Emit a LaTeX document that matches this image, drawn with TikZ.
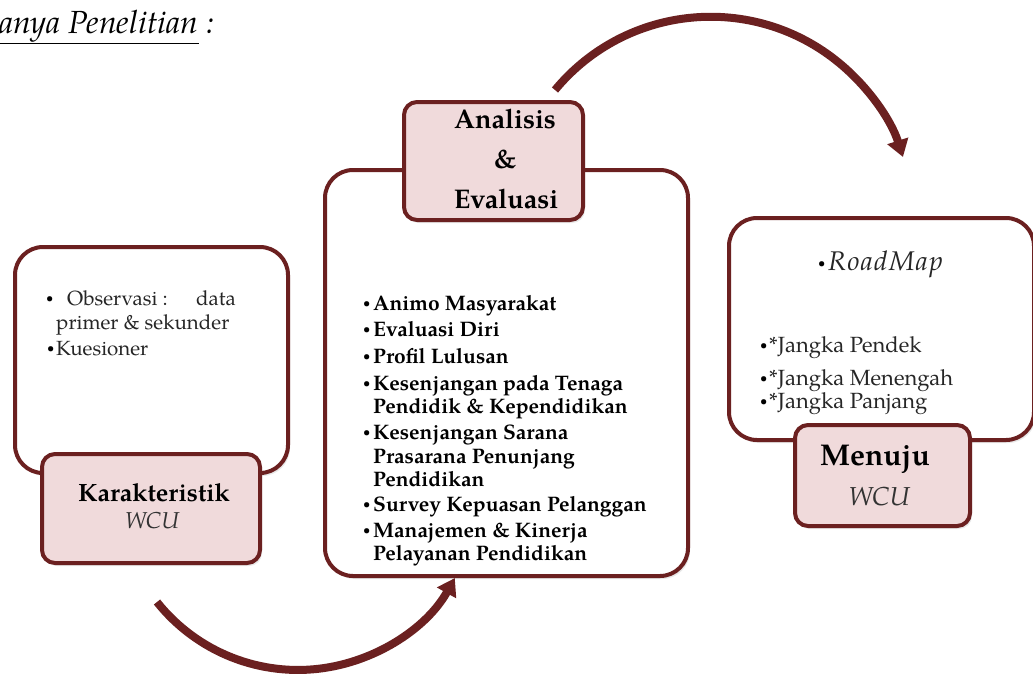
\documentclass[tikz,border=0pt]{standalone}
\usepackage{fontspec}
\setmainfont{TeX Gyre Pagella}
\usetikzlibrary{arrows.meta,shadows}
\definecolor{maroon}{HTML}{6B2020}
\definecolor{pinkfill}{HTML}{F0DADB}
\newcommand{\fs}[1]{\fontsize{#1}{#1}\selectfont}
\newcommand{\smbul}[1]{\raisebox{#1}{\fontsize{13}{13}\selectfont\textbullet}}
\tikzset{
  bigbox/.style={draw=maroon, line width=4pt, rounded corners=28pt, fill=white, inner sep=0pt,
    drop shadow={opacity=0.18, shadow xshift=2pt, shadow yshift=-3pt}},
  labelbox/.style={draw=maroon, line width=4pt, rounded corners=13pt, fill=pinkfill, inner sep=0pt,
    drop shadow={opacity=0.18, shadow xshift=2pt, shadow yshift=-3pt}},
  curvearrow/.style={draw=maroon, line width=8pt, -{Triangle[length=17pt,width=21pt]}},
  txt/.style={anchor=base west, inner sep=0pt},
  ctxt/.style={anchor=base, inner sep=0pt},
  midtxt/.style={txt, font=\fs{21}\bfseries},
  lefttxt/.style={txt, font=\fs{20.5}, text=black!85},
  righttxt/.style={txt, font=\fs{22}, text=black!85},
  bul/.style={txt, text=black},
}
\begin{document}
\begin{tikzpicture}[x=1pt,y=1pt]
\useasboundingbox (0,0) rectangle (1033,-673);
\clip (0,0) rectangle (1033,-673);
\fill[white] (0,0) rectangle (1033,-673);

% title
\node[txt, font=\fs{32}\itshape] (title) at (-1,-33) {\underline{anya Penelitian} :};

% big boxes
\node[bigbox, minimum width=273pt, minimum height=226pt] (leftbox) at (151.5,-360) {};
\node[bigbox, minimum width=363pt, minimum height=406pt] (midbox) at (506.5,-373) {};
\node[bigbox, minimum width=305pt, minimum height=222pt] (rightbox) at (881.5,-329) {};

% label boxes
\node[labelbox, minimum width=218pt, minimum height=109pt] (leftlab) at (151,-508.5) {};
\node[labelbox, minimum width=179pt, minimum height=118pt] (midlab) at (493.5,-161) {};
\node[labelbox, minimum width=175pt, minimum height=101pt] (rightlab) at (882.5,-475.5) {};

% label texts
\node[ctxt, font=\fs{25}\bfseries] (k1) at (154,-501) {Karakteristik};
\node[ctxt, font=\fs{23}\itshape, text=black!80] (k2) at (152,-528) {WCU};
\node[ctxt, font=\fs{27}\bfseries] (a1) at (505,-128) {Analisis};
\node[ctxt, font=\fs{27}\bfseries] (a2) at (505,-168) {\&};
\node[ctxt, font=\fs{27}\bfseries] (a3) at (506,-208) {Evaluasi};
\node[ctxt, font=\fs{30}\bfseries] (m1) at (875,-465) {Menuju};
\node[ctxt, font=\fs{26}\itshape, text=black!80] (m2) at (879,-505) {WCU};

% left list
\node[bul] (lb1) at (46,-305) {\smbul{2.5pt}};
\node[lefttxt] (l1) at (67,-305) {Observasi :};
\node[lefttxt, anchor=base east] (l1b) at (236,-305) {data};
\node[lefttxt] (l2) at (56,-329) {primer \& sekunder};
\node[bul] (lb3) at (47,-355) {\smbul{2.5pt}};
\node[lefttxt] (l3) at (56,-355) {Kuesioner};

% middle list
\node[bul] (mb1) at (363,-310) {\smbul{2.5pt}};
\node[midtxt] (t1) at (373,-310) {Animo Masyarakat};
\node[bul] (mb2) at (363,-336) {\smbul{2.5pt}};
\node[midtxt] (t2) at (373,-336) {Evaluasi Diri};
\node[bul] (mb3) at (363,-363) {\smbul{2.5pt}};
\node[midtxt] (t3) at (373,-363) {Profil Lulusan};
\node[bul] (mb4) at (363,-390) {\smbul{2.5pt}};
\node[midtxt] (t4) at (373,-390) {Kesenjangan pada Tenaga};
\node[midtxt] (t4b) at (373,-413) {Pendidik \& Kependidikan};
\node[bul] (mb5) at (363,-439) {\smbul{2.5pt}};
\node[midtxt] (t5) at (373,-439) {Kesenjangan Sarana};
\node[midtxt] (t5b) at (373,-463) {Prasarana Penunjang};
\node[midtxt] (t5c) at (373,-486) {Pendidikan};
\node[bul] (mb6) at (363,-511) {\smbul{2.5pt}};
\node[midtxt] (t6) at (373,-511) {Survey Kepuasan Pelanggan};
\node[bul] (mb7) at (363,-537) {\smbul{2.5pt}};
\node[midtxt] (t7) at (373,-537) {Manajemen \& Kinerja};
\node[midtxt] (t7b) at (373,-560) {Pelayanan Pendidikan};

% right list
\node[bul] (rb0) at (818,-270) {\smbul{3pt}};
\node[righttxt, font=\fs{27}\itshape\addfontfeature{LetterSpace=5}] (r0) at (828,-270) {RoadMap};
\node[bul] (rb1) at (760,-352) {\smbul{2.5pt}};
\node[righttxt] (r1) at (769,-352) {*Jangka Pendek};
\node[bul] (rb2) at (760,-385) {\smbul{2.5pt}};
\node[righttxt] (r2) at (769,-385) {*Jangka Menengah};
\node[bul] (rb3) at (760,-408) {\smbul{2.5pt}};
\node[righttxt] (r3) at (769,-408) {*Jangka Panjang};

% arrows
\coordinate (bstart) at (157,-602);
\coordinate (tstart) at (555,-90);
\draw[curvearrow] (bstart) arc[start angle=218.5, end angle=330.7, radius=180pt];
\draw[curvearrow] (tstart) arc[start angle=140.4, end angle=17.8, radius=202pt];
\end{tikzpicture}
\end{document}
